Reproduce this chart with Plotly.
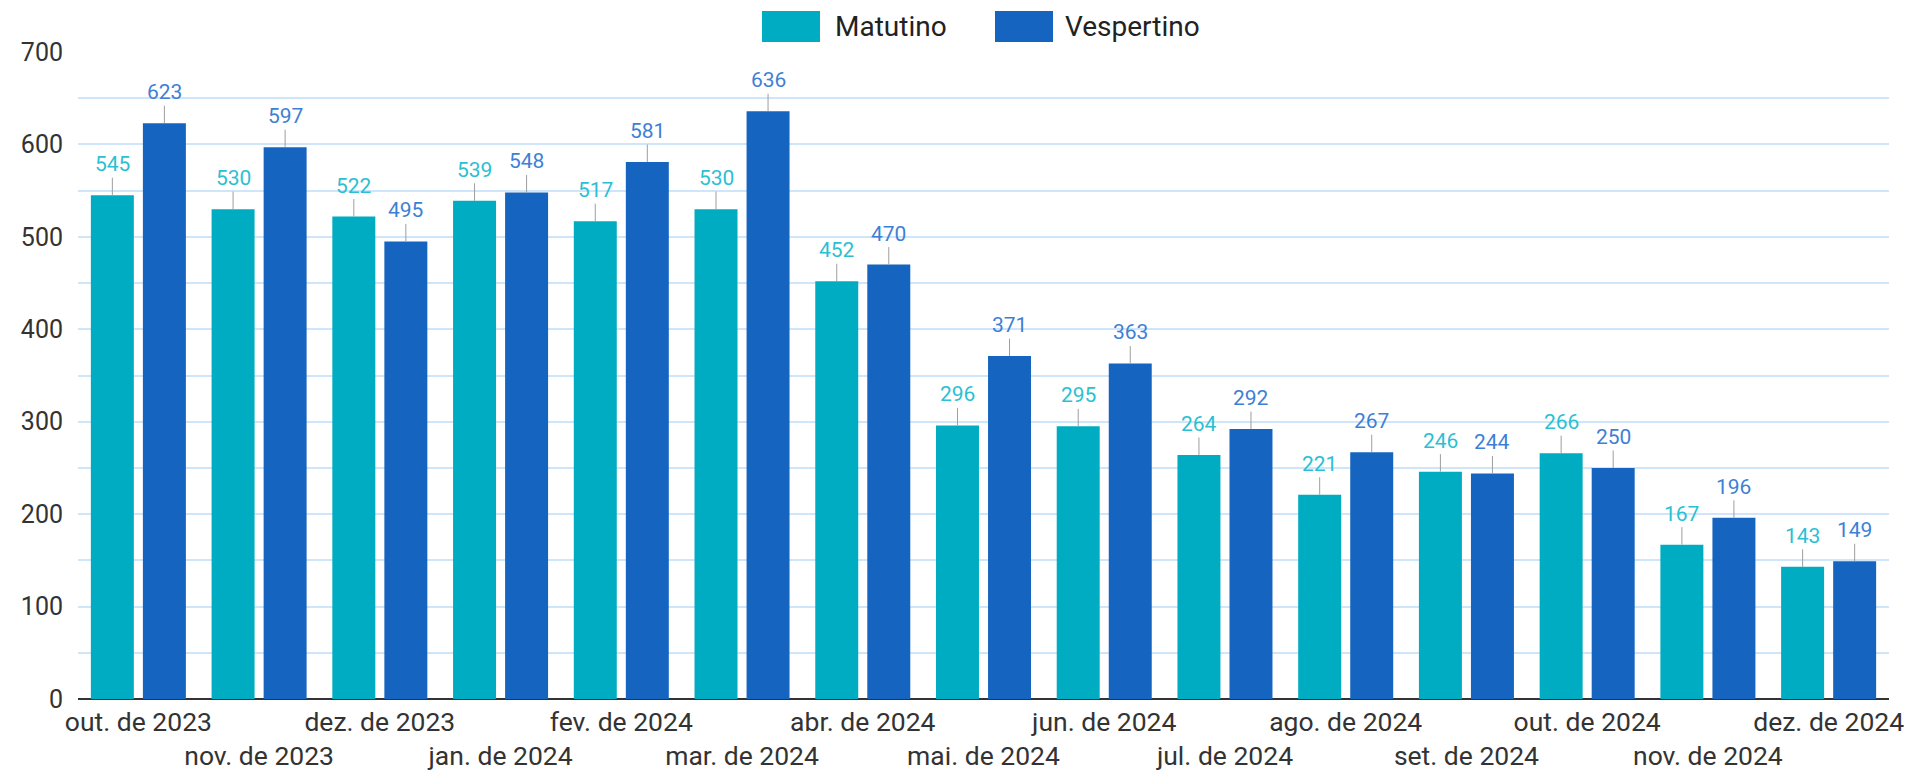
import plotly.graph_objects as go

months = ["out. de 2023", "nov. de 2023", "dez. de 2023", "jan. de 2024", "fev. de 2024",
          "mar. de 2024", "abr. de 2024", "mai. de 2024", "jun. de 2024", "jul. de 2024",
          "ago. de 2024", "set. de 2024", "out. de 2024", "nov. de 2024", "dez. de 2024"]
matutino = [545, 530, 522, 539, 517, 530, 452, 296, 295, 264, 221, 246, 266, 167, 143]
vespertino = [623, 597, 495, 548, 581, 636, 470, 371, 363, 292, 267, 244, 250, 196, 149]
y_ticks = [0, 100, 200, 300, 400, 500, 600, 700]
series_names = ["Matutino", "Vespertino"]

C_MAT = "#00ACC1"
C_VES = "#1565C0"
L_MAT = "#2BBFD3"
L_VES = "#3E7FD6"

OFF = 8  # page body margin
W, H = 1918 - OFF, 772 - OFF
PL, PR, PT, PB = 78, 1889, 52, 699  # plot area in page pixels
ML, MT = PL - OFF, PT - OFF
PW, PH = PR - PL, PB - PT
MR = W - ML - PW
MB = H - MT - PH


def px_x(px):
    return (px - PL) / PW


def px_y(py):
    return (PB - py) / PH


x = list(range(len(months)))
BW = 0.356
GAP = 0.075
off_m = -(BW + GAP / 2)
off_v = GAP / 2

fig = go.Figure()
fig.add_trace(go.Bar(x=x, y=matutino, name=series_names[0], marker_color=C_MAT,
                     width=BW, offset=off_m, marker_line_width=0, showlegend=False))
fig.add_trace(go.Bar(x=x, y=vespertino, name=series_names[1], marker_color=C_VES,
                     width=BW, offset=off_v, marker_line_width=0, showlegend=False))

annotations = []
for i, (m, v) in enumerate(zip(matutino, vespertino)):
    for val, off, col in ((m, off_m, L_MAT), (v, off_v, L_VES)):
        annotations.append(dict(
            x=i + off + BW / 2, y=val, xref="x", yref="y",
            text=str(val), showarrow=True, arrowhead=0, arrowwidth=1,
            arrowcolor="#9E9E9E", ax=0, ay=-31, standoff=0,
            font=dict(family="Roboto", size=21, color=col),
        ))

# legend (large swatches like the reference)
shapes = []
legend_items = [(series_names[0], C_MAT, 762, 833), (series_names[1], C_VES, 995, 1063)]
for name, col, bx, tx in legend_items:
    shapes.append(dict(type="rect", xref="paper", yref="paper",
                       x0=px_x(bx), x1=px_x(bx + 58), y0=px_y(42), y1=px_y(11),
                       fillcolor=col, line=dict(width=0)))
    annotations.append(dict(x=px_x(tx), y=px_y(26.5), xref="paper", yref="paper",
                            xanchor="left", yanchor="middle", showarrow=False,
                            text=name, font=dict(family="Roboto", size=28, color="#222222")))

ticktext = [t if i % 2 == 0 else "<br>" + t for i, t in enumerate(months)]

fig.update_layout(
    width=W, height=H,
    margin=dict(l=ML, r=MR, t=MT, b=MB),
    paper_bgcolor="white", plot_bgcolor="white",
    font=dict(family="Roboto", size=25, color="#333333"),
    barmode="overlay",
    showlegend=False,
    annotations=annotations,
    shapes=shapes,
    xaxis=dict(range=[-0.5, len(months) - 0.5], tickmode="array", tickvals=x,
               ticktext=ticktext, showgrid=False, zeroline=False, automargin=False,
               showline=False, ticks="", tickangle=0, ticklabelstandoff=4,
               tickfont=dict(family="Roboto", size=26.5, color="#333333")),
    yaxis=dict(range=[0, 700], tickmode="array", tickvals=y_ticks, automargin=False,
               showgrid=True, gridcolor="#CFE6FA", gridwidth=1.5,
               minor=dict(dtick=50, showgrid=True, gridcolor="#CFE6FA", gridwidth=1.5),
               zeroline=True, zerolinecolor="#333333", zerolinewidth=2,
               ticks="", ticklabelstandoff=14,
               tickfont=dict(family="Roboto", size=25, color="#333333")),
)

fig.write_html("out.html")
